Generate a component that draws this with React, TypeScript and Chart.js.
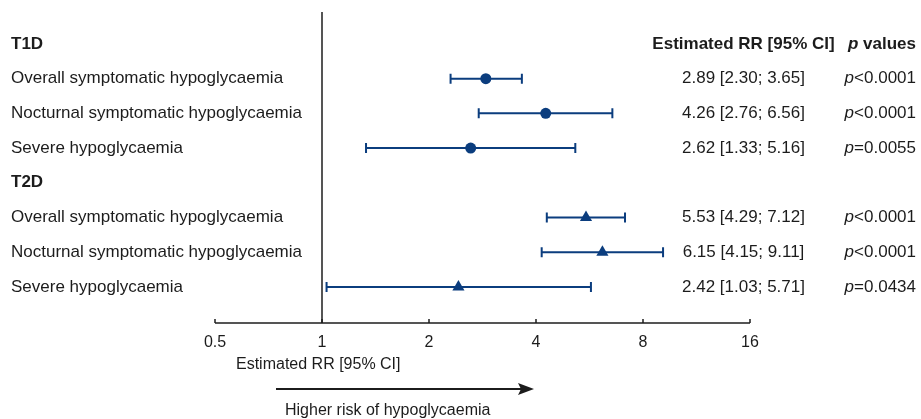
import React, { useEffect, useRef } from "react";
import { Chart, registerables } from "chart.js";

Chart.register(...registerables);

const OUTCOMES = [
  "Overall symptomatic hypoglycaemia",
  "Nocturnal symptomatic hypoglycaemia",
  "Severe hypoglycaemia",
];
const GROUPS = ["T1D", "T2D"];

const T1D_RR = [2.89, 4.26, 2.62];
const T1D_LO = [2.3, 2.76, 1.33];
const T1D_HI = [3.65, 6.56, 5.16];
const T1D_P = ["<0.0001", "<0.0001", "=0.0055"];

const T2D_RR = [5.53, 6.15, 2.42];
const T2D_LO = [4.29, 4.15, 1.03];
const T2D_HI = [7.12, 9.11, 5.71];
const T2D_P = ["<0.0001", "<0.0001", "=0.0434"];

const X_TICKS = [0.5, 1, 2, 4, 8, 16];
const X_TICK_LABELS = ["0.5", "1", "2", "4", "8", "16"];

const T1D_ROWS = [1, 2, 3];
const T2D_ROWS = [5, 6, 7];
const HEADER_ROWS = [0, 4];

const NAVY = "#0b3d7e";
const INK = "#1c1c1c";
const FONT = "'Liberation Sans', Arial, Helvetica, sans-serif";

function fmt(v: number) {
  return v.toFixed(2);
}

export default function App() {
  const ref = useRef<HTMLCanvasElement | null>(null);

  useEffect(() => {
    const canvas = ref.current;
    if (!canvas) return;

    const mk = (rr: number[], lo: number[], hi: number[], rows: number[]) =>
      rr.map((v, i) => ({ x: v, y: rows[i], lo: lo[i], hi: hi[i] }));

    const errorBars = {
      id: "errorBars",
      beforeDatasetsDraw(chart: any) {
        const { ctx } = chart;
        const xs = chart.scales.x;
        const ys = chart.scales.y;
        ctx.save();
        ctx.strokeStyle = NAVY;
        ctx.lineWidth = 2;
        chart.data.datasets.forEach((ds: any) => {
          ds.data.forEach((d: any) => {
            const x1 = xs.getPixelForValue(d.lo);
            const x2 = xs.getPixelForValue(d.hi);
            const y = ys.getPixelForValue(d.y);
            ctx.beginPath();
            ctx.moveTo(x1, y);
            ctx.lineTo(x2, y);
            ctx.moveTo(x1, y - 5);
            ctx.lineTo(x1, y + 5);
            ctx.moveTo(x2, y - 5);
            ctx.lineTo(x2, y + 5);
            ctx.stroke();
          });
        });
        ctx.restore();
      },
    };

    const decor = {
      id: "decor",
      beforeDraw(chart: any) {
        const { ctx } = chart;
        const xs = chart.scales.x;
        const ys = chart.scales.y;
        const area = chart.chartArea;
        ctx.save();
        ctx.strokeStyle = INK;
        ctx.lineWidth = 1.5;
        // reference line at 1
        const x1 = xs.getPixelForValue(1);
        ctx.beginPath();
        ctx.moveTo(x1, area.top);
        ctx.lineTo(x1, area.bottom);
        ctx.stroke();
        // axis line
        const axY = area.bottom;
        ctx.beginPath();
        ctx.moveTo(xs.getPixelForValue(X_TICKS[0]), axY);
        ctx.lineTo(xs.getPixelForValue(X_TICKS[X_TICKS.length - 1]), axY);
        ctx.stroke();
        // ticks + labels
        ctx.fillStyle = INK;
        ctx.font = `16px ${FONT}`;
        ctx.textAlign = "center";
        ctx.textBaseline = "middle";
        X_TICKS.forEach((t, i) => {
          const px = xs.getPixelForValue(t);
          ctx.beginPath();
          ctx.moveTo(px, axY);
          ctx.lineTo(px, axY - 4);
          ctx.stroke();
          ctx.fillText(X_TICK_LABELS[i], px, axY + 20);
        });
        // axis title
        ctx.font = `16px ${FONT}`;
        ctx.textAlign = "left";
        ctx.fillText("Estimated RR [95% CI]", 236, axY + 42);
        // arrow
        const ay = axY + 66;
        ctx.lineWidth = 2;
        ctx.beginPath();
        ctx.moveTo(276, ay);
        ctx.lineTo(522, ay);
        ctx.stroke();
        ctx.beginPath();
        ctx.moveTo(534, ay);
        ctx.lineTo(518, ay - 6);
        ctx.lineTo(521, ay);
        ctx.lineTo(518, ay + 6);
        ctx.closePath();
        ctx.fill();
        ctx.fillText("Higher risk of hypoglycaemia", 285, axY + 88);
        ctx.restore();
      },
      afterDraw(chart: any) {
        const { ctx } = chart;
        const ys = chart.scales.y;
        ctx.save();
        ctx.fillStyle = INK;
        ctx.textBaseline = "middle";
        const labelX = 11;
        const colC = 743.5;
        const pRight = 916;
        // headers
        HEADER_ROWS.forEach((r, gi) => {
          const y = ys.getPixelForValue(r);
          ctx.font = `bold 17px ${FONT}`;
          ctx.textAlign = "left";
          ctx.fillText(GROUPS[gi], labelX, y);
        });
        const hy = ys.getPixelForValue(HEADER_ROWS[0]);
        ctx.font = `bold 17px ${FONT}`;
        ctx.textAlign = "center";
        ctx.fillText("Estimated RR [95% CI]", colC, hy);
        // p values header
        ctx.textAlign = "left";
        ctx.font = `bold 17px ${FONT}`;
        const restW = ctx.measureText(" values").width;
        ctx.font = `italic bold 17px ${FONT}`;
        const pW = ctx.measureText("p").width;
        ctx.fillText("p", pRight - restW - pW, hy);
        ctx.font = `bold 17px ${FONT}`;
        ctx.fillText(" values", pRight - restW, hy);

        const drawRows = (rows: number[], rr: number[], lo: number[], hi: number[], ps: string[]) => {
          rows.forEach((r, i) => {
            const y = ys.getPixelForValue(r);
            ctx.font = `17px ${FONT}`;
            ctx.textAlign = "left";
            ctx.fillText(OUTCOMES[i], labelX, y);
            ctx.textAlign = "center";
            ctx.fillText(`${fmt(rr[i])} [${fmt(lo[i])}; ${fmt(hi[i])}]`, colC, y);
            ctx.textAlign = "left";
            const rw = ctx.measureText(ps[i]).width;
            ctx.font = `italic 17px ${FONT}`;
            const pw = ctx.measureText("p").width;
            ctx.fillText("p", pRight - rw - pw, y);
            ctx.font = `17px ${FONT}`;
            ctx.fillText(ps[i], pRight - rw, y);
          });
        };
        drawRows(T1D_ROWS, T1D_RR, T1D_LO, T1D_HI, T1D_P);
        drawRows(T2D_ROWS, T2D_RR, T2D_LO, T2D_HI, T2D_P);
        ctx.restore();
      },
    };

    const chart = new Chart(canvas, {
      type: "scatter",
      data: {
        datasets: [
          {
            label: "T1D",
            data: mk(T1D_RR, T1D_LO, T1D_HI, T1D_ROWS),
            pointStyle: "circle",
            pointRadius: 5.5,
            backgroundColor: NAVY,
            borderColor: NAVY,
            borderWidth: 0,
          },
          {
            label: "T2D",
            data: mk(T2D_RR, T2D_LO, T2D_HI, T2D_ROWS),
            pointStyle: "triangle",
            pointRadius: 7,
            backgroundColor: NAVY,
            borderColor: NAVY,
            borderWidth: 0,
          },
        ],
      },
      options: {
        animation: false,
        responsive: false,
        devicePixelRatio: 1,
        layout: { padding: { left: 215, right: 171, top: 12, bottom: 96 } },
        plugins: { legend: { display: false }, tooltip: { enabled: false } },
        scales: {
          x: { type: "logarithmic", min: 0.5, max: 16, display: false },
          y: { type: "linear", min: -0.92, max: 8.04, reverse: true, display: false },
        },
      },
      plugins: [errorBars, decor],
    } as any);

    return () => chart.destroy();
  }, []);

  return (
    <div style={{ position: "absolute", left: 0, top: 0, width: 921, height: 419, background: "#fff" }}>
      <canvas ref={ref} width={921} height={419} />
    </div>
  );
}
